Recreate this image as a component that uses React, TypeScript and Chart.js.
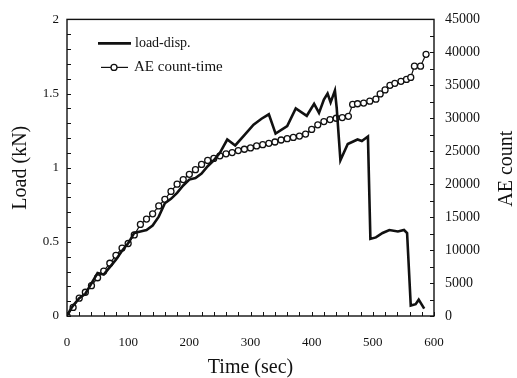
import React, { useEffect, useRef } from "react";
import { Chart, registerables } from "chart.js";

Chart.register(...registerables);

// load-disp series (time in sec, load in kN)
const loadTime = [0, 5, 10, 20, 30, 40, 50, 60, 70, 80, 90, 100, 110, 120, 130, 140, 150, 160, 170, 180, 190, 200, 210, 220, 230, 240, 250, 262, 275, 290, 305, 318, 330, 341, 360, 374, 392, 404, 412, 420, 426, 431, 438, 441, 447, 459, 475, 482, 492, 496, 505, 516, 527, 541, 551, 556, 562, 570, 575, 584];
const loadValues = [0, 0.04, 0.07, 0.12, 0.15, 0.22, 0.29, 0.28, 0.33, 0.38, 0.44, 0.49, 0.56, 0.57, 0.58, 0.61, 0.67, 0.76, 0.79, 0.83, 0.88, 0.92, 0.93, 0.96, 1.01, 1.05, 1.1, 1.19, 1.15, 1.22, 1.29, 1.33, 1.36, 1.23, 1.28, 1.4, 1.35, 1.43, 1.37, 1.46, 1.5, 1.44, 1.52, 1.4, 1.05, 1.16, 1.19, 1.18, 1.21, 0.52, 0.53, 0.56, 0.58, 0.57, 0.58, 0.56, 0.07, 0.08, 0.11, 0.05];

// AE count-time series (time in sec, cumulative AE count)
const aeTime = [0, 10, 20, 30, 40, 50, 60, 70, 80, 90, 100, 110, 120, 130, 140, 150, 160, 170, 180, 190, 200, 210, 220, 230, 240, 250, 260, 270, 280, 290, 300, 310, 320, 330, 340, 350, 360, 370, 380, 390, 400, 410, 420, 430, 440, 450, 460, 467, 475, 485, 495, 505, 512, 520, 528, 536, 546, 555, 562, 568, 578, 587];
const aeValues = [0, 1300, 2700, 3600, 4600, 5800, 6800, 8000, 9200, 10300, 11000, 12300, 13900, 14700, 15500, 16700, 17700, 18900, 20000, 20700, 21500, 22200, 23000, 23600, 23900, 24300, 24600, 24800, 25100, 25300, 25500, 25800, 26000, 26200, 26400, 26700, 26900, 27100, 27300, 27600, 28300, 29000, 29500, 29800, 30000, 30100, 30300, 32100, 32200, 32300, 32600, 32900, 33700, 34300, 35000, 35300, 35600, 35900, 36200, 37900, 37900, 39700];

const seriesNames = ["load-disp.", "AE count-time"];
const axisTitles = { x: "Time (sec)", yLeft: "Load (kN)", yRight: "AE count" };

const FONT = "'Liberation Serif', 'Times New Roman', serif";
const INK = "#111";

const framePlugin = {
  id: "frameTicks",
  beforeDatasetsDraw(chart: any) {
    const { ctx, chartArea: a, scales } = chart;
    ctx.save();
    ctx.strokeStyle = INK;
    ctx.lineWidth = 1.4;
    ctx.strokeRect(a.left, a.top, a.right - a.left, a.bottom - a.top);
    ctx.lineWidth = 1;
    const len = 4;
    for (let v = 0; v <= 600; v += 20) {
      const px = Math.round(scales.x.getPixelForValue(v)) + 0.5;
      ctx.beginPath();
      ctx.moveTo(px, a.bottom);
      ctx.lineTo(px, a.bottom - len);
      ctx.stroke();
    }
    for (let i = 0; i <= 20; i++) {
      const py = Math.round(scales.y.getPixelForValue(i / 10)) + 0.5;
      ctx.beginPath();
      ctx.moveTo(a.left, py);
      ctx.lineTo(a.left + len, py);
      ctx.stroke();
    }
    for (let v = 0; v <= 45000; v += 2500) {
      const py = Math.round(scales.y2.getPixelForValue(v)) + 0.5;
      ctx.beginPath();
      ctx.moveTo(a.right, py);
      ctx.lineTo(a.right - len, py);
      ctx.stroke();
    }
    ctx.restore();
  },
};

const overlayPlugin = {
  id: "insideLegend",
  afterDraw(chart: any) {
    const { ctx, chartArea: a, scales } = chart;
    const ds0 = chart.data.datasets[0];
    const ds1 = chart.data.datasets[1];
    ctx.save();
    ctx.font = `14px ${FONT}`;
    ctx.fillStyle = INK;
    ctx.textBaseline = "middle";
    const x0 = a.left + 31;
    const y1 = a.top + 24;
    ctx.strokeStyle = ds0.borderColor;
    ctx.lineWidth = ds0.borderWidth;
    ctx.beginPath();
    ctx.moveTo(x0, y1);
    ctx.lineTo(x0 + 33, y1);
    ctx.stroke();
    ctx.fillText(ds0.label, x0 + 37, y1);
    const y2 = a.top + 48;
    ctx.strokeStyle = ds1.borderColor;
    ctx.lineWidth = ds1.borderWidth;
    ctx.beginPath();
    ctx.moveTo(x0 + 3, y2);
    ctx.lineTo(x0 + 30, y2);
    ctx.stroke();
    ctx.beginPath();
    ctx.arc(x0 + 16, y2, ds1.pointRadius, 0, Math.PI * 2);
    ctx.fillStyle = ds1.pointBackgroundColor;
    ctx.fill();
    ctx.lineWidth = ds1.pointBorderWidth;
    ctx.strokeStyle = ds1.pointBorderColor;
    ctx.stroke();
    ctx.fillStyle = INK;
    ctx.font = `15px ${FONT}`;
    ctx.fillText(ds1.label, x0 + 36, y2);

    // right axis title, reading bottom-to-top
    const r = scales.y2;
    ctx.translate(r.right - 10, (a.top + a.bottom) / 2 + 1);
    ctx.rotate(-Math.PI / 2);
    ctx.textAlign = "center";
    ctx.textBaseline = "middle";
    ctx.font = `20px ${FONT}`;
    ctx.fillText(axisTitles.yRight, 0, 0);
    ctx.restore();
  },
};

export default function App() {
  const ref = useRef<HTMLCanvasElement | null>(null);

  useEffect(() => {
    if (!ref.current) return;
    const loadPts = loadTime.map((t, i) => ({ x: t, y: loadValues[i] }));
    const aePts = aeTime.map((t, i) => ({ x: t, y: aeValues[i] }));
    const chart = new Chart(ref.current, {
      type: "line",
      data: {
        datasets: [
          {
            label: seriesNames[0],
            data: loadPts,
            yAxisID: "y",
            borderColor: INK,
            borderWidth: 2.6,
            pointRadius: 0,
            tension: 0,
          },
          {
            label: seriesNames[1],
            data: aePts,
            yAxisID: "y2",
            borderColor: INK,
            borderWidth: 1.2,
            pointRadius: 3,
            pointBackgroundColor: "#fff",
            pointBorderColor: INK,
            pointBorderWidth: 1.3,
            tension: 0,
          },
        ],
      },
      options: {
        responsive: false,
        animation: false,
        devicePixelRatio: 1,
        layout: { padding: { top: 18, left: 0, right: 0, bottom: 0 } },
        plugins: { legend: { display: false }, tooltip: { enabled: false } },
        scales: {
          x: {
            type: "linear",
            min: 0,
            max: 600,
            border: { display: false },
            grid: { display: false, drawTicks: false },
            ticks: { stepSize: 100, padding: 19, color: INK, font: { family: FONT, size: 13 } },
            title: {
              display: true,
              text: axisTitles.x,
              color: INK,
              font: { family: FONT, size: 20, lineHeight: 1 },
              padding: { top: 0, bottom: 0 },
            },
            afterFit(s: any) {
              s.height = 62;
            },
          },
          y: {
            type: "linear",
            position: "left",
            min: 0,
            max: 2,
            border: { display: false },
            grid: { display: false, drawTicks: false },
            ticks: {
              stepSize: 0.5,
              padding: 8,
              color: INK,
              font: { family: FONT, size: 13 },
              callback: (v: any) => String(v),
            },
            title: {
              display: true,
              text: axisTitles.yLeft,
              color: INK,
              font: { family: FONT, size: 20, lineHeight: 1 },
              padding: { top: 11, bottom: 0 },
            },
            afterFit(s: any) {
              s.width = 67;
            },
          },
          y2: {
            type: "linear",
            position: "right",
            min: 0,
            max: 45000,
            border: { display: false },
            grid: { display: false, drawTicks: false },
            ticks: {
              stepSize: 5000,
              padding: 11,
              color: INK,
              font: { family: FONT, size: 14 },
              callback: (v: any) => String(v),
            },
            title: { display: false },
            afterFit(s: any) {
              s.width = 83;
            },
          },
        },
      },
      plugins: [framePlugin, overlayPlugin],
    } as any);
    return () => chart.destroy();
  }, []);

  return (
    <div style={{ position: "absolute", left: 0, top: 0, width: 517, height: 378, background: "#fff" }}>
      <canvas ref={ref} width={517} height={378} style={{ display: "block" }} />
    </div>
  );
}
